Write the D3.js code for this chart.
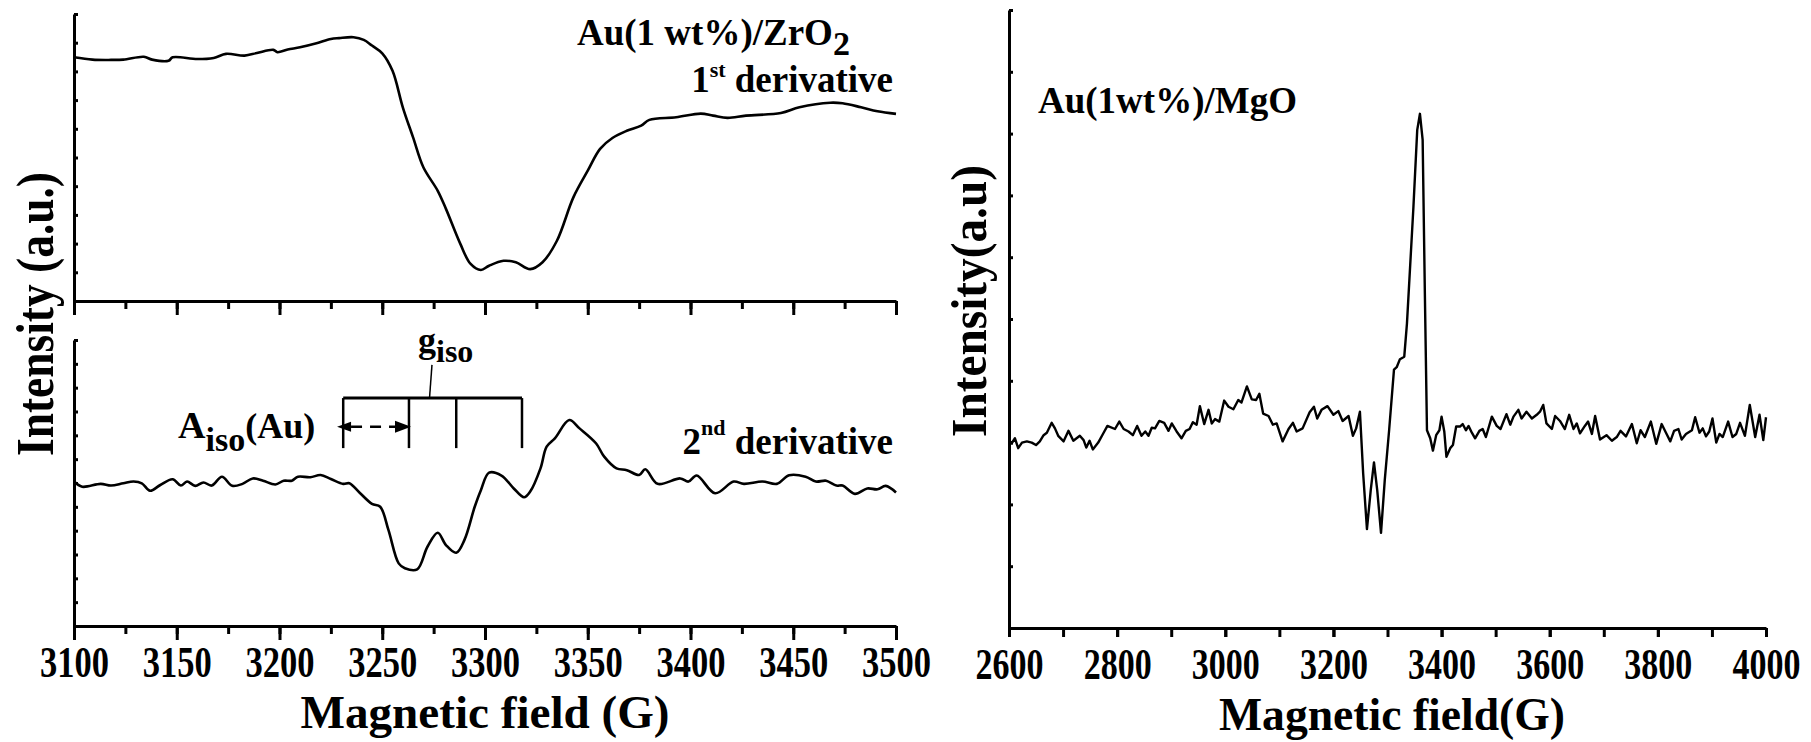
<!DOCTYPE html>
<html>
<head>
<meta charset="utf-8">
<script src="https://cdn.jsdelivr.net/npm/d3@7"></script>
<style>
body { margin: 0; background: #fff; }
</style>
</head>
<body>
<script>
// Au/ZrO2, 1st derivative (field in G, intensity in a.u. 0-100 of panel)
var zrField1 = [3100,3109,3118,3124,3134,3138,3146,3148,3160,3168,3174,3183,3189,3197,3199,3204,3210,3218,3225,3229,
  3236,3241,3245,3250,3255,3260,3265,3270,3277,3281,3288,3293,3298,3302,3309,3315,3322,3328,3335,3343,
  3350,3356,3362,3369,3376,3380,3393,3405,3411,3418,3427,3444,3453,3468,3474,3483,3491,3500];
var zrInt1 = [84.9,84.1,84.0,84.1,85.1,84.1,83.7,84.9,84.3,84.7,86.1,85.5,86.4,87.5,86.7,87.6,88.4,89.8,91.3,91.6,
  91.9,91.0,89.0,86.3,80.2,67.5,57.0,46.6,38.4,32.1,19.9,12.9,10.8,12.3,14.0,13.5,11.1,13.5,21.0,36.1,
  45.4,53.0,56.8,59.3,61.1,63.1,64.0,65.3,64.6,63.8,64.6,65.5,67.5,69.1,68.9,67.5,66.1,65.2];

// Au/ZrO2, 2nd derivative
var zrField2 = [3100,3104,3113,3118,3124,3129,3133,3137,3142,3148,3152,3155,3159,3163,3167,3172,3177,3182,3187,3192,
  3198,3202,3206,3209,3215,3220,3225,3231,3234,3239,3245,3249,3253,3258,3261,3267,3272,3277,3281,3286,
  3290,3295,3298,3302,3308,3314,3319,3322,3327,3330,3334,3341,3346,3354,3358,3364,3369,3375,3378,3384,
  3395,3399,3403,3412,3421,3426,3435,3442,3448,3456,3461,3466,3471,3474,3480,3486,3491,3495,3500];
var zrInt2 = [50.5,48.7,49.7,49.1,49.9,50.5,49.9,47.3,49.3,51.3,49.1,50.5,49.0,50.2,49.1,52.2,49.0,49.7,51.6,50.8,
  49.5,50.8,50.8,52.2,52.0,52.8,51.4,49.7,49.9,46.6,42.7,41.7,33.6,21.9,20.2,19.8,27.7,32.6,28.3,25.6,
  30.1,41.7,47.5,53.6,52.6,48.1,45.0,47.0,55.1,62.7,65.6,72.0,69.1,63.9,59.2,55.1,54.5,52.8,54.8,49.7,
  51.6,50.5,52.6,46.4,50.5,49.7,50.5,49.7,52.7,52.2,50.5,50.8,49.1,49.1,46.2,48.1,47.8,49.0,46.7];

// Au/MgO
var mgField = [2600,2605,2611,2617,2624,2633,2642,2650,2657,2664,2670,2679,2685,2691,2701,2710,2719,2731,2738,2743,
  2749,2755,2765,2775,2782,2796,2804,2812,2821,2829,2837,2845,2852,2858,2864,2870,2878,2887,2895,2901,
  2910,2919,2927,2934,2940,2947,2953,2961,2969,2975,2981,2989,2998,3006,3015,3024,3030,3040,3049,3057,
  3063,3070,3080,3088,3095,3106,3117,3125,3132,3143,3156,3164,3170,3178,3189,3200,3209,3217,3228,3236,
  3242,3249,3255,3262,3269,3275,3281,3288,3295,3303,3312,3317,3323,3331,3336,3348,3355,3360,3365,3369,
  3373,3379,3384,3390,3396,3400,3405,3409,3416,3421,3427,3434,3439,3445,3450,3456,3462,3470,3476,3482,
  3493,3502,3509,3520,3527,3533,3542,3548,3557,3567,3576,3582,3588,3594,3604,3610,3619,3628,3636,3644,
  3650,3656,3665,3671,3678,3684,3693,3705,3715,3724,3731,3741,3752,3761,3768,3776,3787,3797,3807,3815,
  3823,3830,3838,3844,3852,3863,3869,3877,3883,3889,3895,3901,3908,3914,3920,3930,3938,3945,3952,3961,
  3970,3980,3988,3995,4000];
var mgInt = [30.2,29.9,30.7,29.1,30.0,30.2,30.0,29.6,30.2,31.2,31.6,33.2,32.3,31.1,30.2,31.9,30.3,31.1,30.4,29.2,
  30.3,28.9,30.0,31.6,32.7,32.2,33.4,32.2,31.8,31.2,32.7,31.1,31.8,31.1,32.4,32.3,33.5,33.2,31.9,33.1,
  31.8,30.7,31.9,32.2,33.3,32.9,35.9,33.0,35.3,33.1,33.8,33.4,36.8,35.8,35.4,36.9,36.5,39.1,37.0,36.9,
  37.9,34.7,34.3,32.9,33.1,30.2,32.2,33.2,31.8,32.3,34.9,35.8,33.9,35.3,35.9,34.5,35.1,33.5,34.3,31.1,
  32.3,35.0,25.0,16.0,22.3,26.8,22.3,15.4,24.0,32.0,41.8,42.2,43.5,43.9,49.3,68.2,80.6,83.2,79.0,54.7,
  32.0,30.7,28.7,31.2,32.0,34.2,31.8,27.7,29.1,29.6,32.6,32.6,33.0,32.0,32.7,31.6,30.7,31.9,32.2,30.9,
  34.2,32.7,32.2,34.6,32.9,34.2,35.3,33.9,35.0,33.9,34.5,35.0,36.1,33.1,32.2,34.3,33.5,32.2,34.5,32.2,
  33.1,31.5,32.7,33.4,31.4,34.3,30.5,31.2,30.3,30.9,31.9,31.0,33.0,29.9,32.0,30.9,33.4,29.8,33.0,31.6,
  30.2,31.9,32.2,30.5,31.4,32.0,34.1,31.6,32.3,31.0,31.8,33.9,30.0,31.4,30.9,33.4,30.9,31.4,33.2,31.1,
  36.1,30.9,34.5,30.4,34.1];

// hyperfine marker positions (G) and levels (a.u.) in the 2nd-derivative panel
var hfLines = [3231, 3263, 3286, 3318];
var hfTop = 79.7, hfBottom = 62.2, hfLeaderTop = 91.3;
var arrowFrom = 3228, arrowTo = 3264, arrowLevel = 69.7;

var FONT = "'Liberation Serif', 'Times New Roman', Times, serif";
var W = 1811, H = 742;
var svg = d3.select("body").append("svg").attr("width", W).attr("height", H)
  .style("font-family", FONT).style("font-weight", "bold");

var xZr = d3.scaleLinear().domain([3100, 3500]).range([74, 896]);
var yTop = d3.scaleLinear().domain([0, 100]).range([301, 14]);
var yBot = d3.scaleLinear().domain([0, 100]).range([626, 340]);
var xMg = d3.scaleLinear().domain([2600, 4000]).range([1009, 1766]);
var yMg = d3.scaleLinear().domain([0, 100]).range([628, 10]);

function label(sel) {
  return sel.append("text").style("font-family", FONT).style("font-weight", "bold").attr("fill", "#000");
}

function bottomAxis(x, y0, minorStep, majorStep, minorLen, majorLen, labels, labelW) {
  var d = x.domain();
  var minorVals = d3.range(d[0], d[1] + 1, minorStep);
  var majorVals = d3.range(d[0], d[1] + 1, majorStep);
  svg.append("g").attr("transform", "translate(0," + y0 + ")")
    .call(d3.axisBottom(x).tickValues(minorVals).tickSize(minorLen).tickSizeOuter(0).tickFormat(""))
    .call(function(g) { g.selectAll("line, path").attr("stroke", "#000").attr("stroke-width", 3); });
  var g = svg.append("g").attr("transform", "translate(0," + y0 + ")")
    .call(d3.axisBottom(x).tickValues(majorVals).tickSize(majorLen).tickSizeOuter(0).tickFormat(d3.format("d")));
  g.attr("font-family", null).attr("font-size", null);
  g.select(".domain").remove();
  g.selectAll("line").attr("stroke", "#000").attr("stroke-width", 3);
  g.selectAll("text")
    .attr("y", 51).attr("dy", null)
    .style("font-family", FONT).style("font-weight", "bold")
    .attr("font-size", 44)
    .attr("textLength", labelW)
    .attr("lengthAdjust", "spacingAndGlyphs")
    .style("display", labels ? null : "none");
}

function leftAxis(x0, y, n) {
  var d = y.domain();
  var vals = d3.range(0, n + 1).map(function(i) { return d[0] + i * (d[1] - d[0]) / n; });
  svg.append("g").attr("transform", "translate(" + x0 + ",0)")
    .call(d3.axisLeft(y).tickValues(vals).tickSize(-4).tickSizeOuter(0).tickFormat(""))
    .call(function(g) { g.selectAll("line, path").attr("stroke", "#000").attr("stroke-width", 3); });
}

function curve(x, y, xs, ys, c, w) {
  svg.append("path")
    .datum(d3.zip(xs, ys))
    .attr("fill", "none").attr("stroke", "#000").attr("stroke-width", w)
    .attr("stroke-linejoin", "round")
    .attr("d", d3.line().x(function(d) { return x(d[0]); }).y(function(d) { return y(d[1]); }).curve(c));
}

// axes
bottomAxis(xZr, 301, 25, 50, 8, 14, false, 69);
bottomAxis(xZr, 626, 25, 50, 8, 14, true, 69);
bottomAxis(xMg, 628, 100, 200, 9, 9, true, 68);
leftAxis(74, yTop, 10);
leftAxis(74, yBot, 12);
leftAxis(1009, yMg, 10);

// curves
curve(xZr, yTop, zrField1, zrInt1, d3.curveCatmullRom.alpha(0.5), 2.6);
curve(xZr, yBot, zrField2, zrInt2, d3.curveCatmullRom.alpha(0.5), 2.6);
curve(xMg, yMg, mgField, mgInt, d3.curveLinear, 2.4);

// hyperfine bracket
var ann = svg.append("g").attr("stroke", "#000").attr("stroke-width", 2.5);
ann.append("line")
  .attr("x1", xZr(hfLines[0])).attr("x2", xZr(hfLines[hfLines.length - 1]))
  .attr("y1", yBot(hfTop)).attr("y2", yBot(hfTop)).attr("stroke-width", 3);
ann.selectAll(".hf").data(hfLines).enter().append("line")
  .attr("x1", function(d) { return xZr(d); }).attr("x2", function(d) { return xZr(d); })
  .attr("y1", yBot(hfTop)).attr("y2", yBot(hfBottom));
ann.append("line")
  .attr("x1", xZr(3273)).attr("x2", xZr(3274.2))
  .attr("y1", yBot(hfTop)).attr("y2", yBot(hfLeaderTop)).attr("stroke-width", 1.5);
ann.append("line")
  .attr("x1", xZr(arrowFrom) + 10).attr("x2", xZr(arrowTo) - 12)
  .attr("y1", yBot(arrowLevel)).attr("y2", yBot(arrowLevel))
  .attr("stroke-dasharray", "11,8").attr("stroke-dashoffset", -4);
var ay = yBot(arrowLevel), ax1 = xZr(arrowFrom), ax2 = xZr(arrowTo);
svg.append("path").attr("fill", "#000")
  .attr("d", "M" + ax1 + "," + ay + "l14,-5v10z");
svg.append("path").attr("fill", "#000")
  .attr("d", "M" + ax2 + "," + ay + "l-16,-6v12z");

// labels
var t1 = label(svg).attr("x", 577).attr("y", 45).attr("font-size", 37);
t1.append("tspan").text("Au(1 wt%)/ZrO");
t1.append("tspan").attr("font-size", 34).attr("dy", 10).text("2");

var t2 = label(svg).attr("x", 893).attr("y", 92).attr("font-size", 37).attr("text-anchor", "end");
t2.append("tspan").text("1");
t2.append("tspan").attr("font-size", 22).attr("dy", -15).text("st");
t2.append("tspan").attr("dy", 15).text(" derivative");

var t3 = label(svg).attr("x", 893).attr("y", 454).attr("font-size", 37).attr("text-anchor", "end");
t3.append("tspan").text("2");
t3.append("tspan").attr("font-size", 22).attr("dy", -19).text("nd");
t3.append("tspan").attr("dy", 19).text(" derivative");

var t4 = label(svg).attr("x", 418).attr("y", 352).attr("font-size", 36);
t4.append("tspan").text("g");
t4.append("tspan").attr("font-size", 32).attr("dy", 10).text("iso");

var t5 = label(svg).attr("x", 178).attr("y", 438).attr("font-size", 38);
t5.append("tspan").text("A");
t5.append("tspan").attr("font-size", 34).attr("dy", 13).text("iso");
t5.append("tspan").attr("font-size", 36).attr("dy", -13).text("(Au)");

label(svg).attr("x", 1038).attr("y", 113).attr("font-size", 37).text("Au(1wt%)/MgO");

// axis titles
label(svg).attr("x", 485).attr("y", 728).attr("font-size", 46)
  .attr("text-anchor", "middle").attr("textLength", 369).attr("lengthAdjust", "spacingAndGlyphs")
  .text("Magnetic field (G)");
label(svg).attr("x", 1392).attr("y", 730).attr("font-size", 46)
  .attr("text-anchor", "middle").attr("textLength", 346).attr("lengthAdjust", "spacingAndGlyphs")
  .text("Magnetic field(G)");
label(svg).attr("transform", "translate(53,314) rotate(-90)").attr("font-size", 52)
  .attr("text-anchor", "middle").attr("textLength", 284).attr("lengthAdjust", "spacingAndGlyphs")
  .text("Intensity (a.u.)");
label(svg).attr("transform", "translate(986,301) rotate(-90)").attr("font-size", 50)
  .attr("text-anchor", "middle").attr("textLength", 272).attr("lengthAdjust", "spacingAndGlyphs")
  .text("Intensity(a.u)");
</script>
</body>
</html>
